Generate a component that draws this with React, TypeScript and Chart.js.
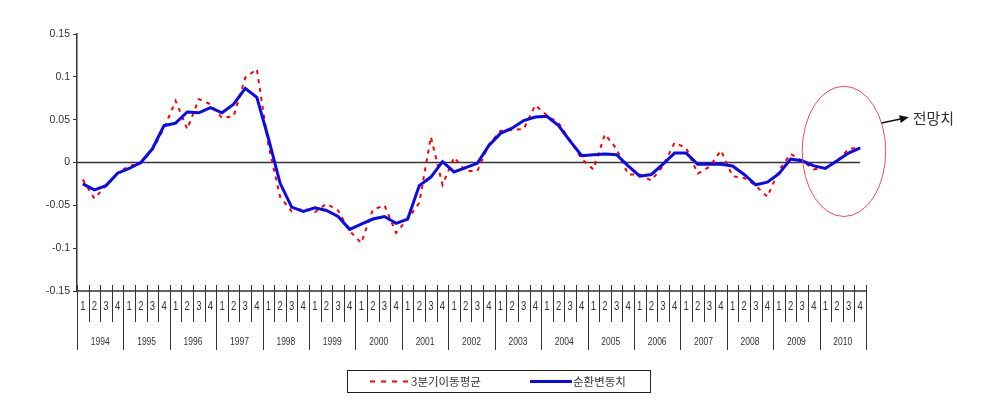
import React, { useEffect, useRef } from 'react';
import { Chart, registerables } from 'chart.js';

Chart.register(...registerables);

const YEARS = ['1994', '1995', '1996', '1997', '1998', '1999', '2000', '2001', '2002', '2003', '2004', '2005', '2006', '2007', '2008', '2009', '2010'];
const QUARTERS = ['1', '2', '3', '4'];

const MOVING_AVG_LABEL = '3분기이동평균';
const CYCLICAL_LABEL = '순환변동치';
const FORECAST_LABEL = '전망치';

// 3-quarter moving average (red dashed)
const MOVING_AVG = [
  -0.020, -0.042, -0.027, -0.012, -0.004, -0.001, 0.015, 0.040, 0.072, 0.039,
  0.074, 0.068, 0.052, 0.054, 0.099, 0.109, 0.020, -0.040, -0.057, -0.054,
  -0.058, -0.048, -0.056, -0.080, -0.094, -0.055, -0.050, -0.082, -0.066, -0.047,
  0.030, -0.026, 0.006, -0.010, -0.010, 0.021, 0.037, 0.038, 0.039, 0.067,
  0.055, 0.046, 0.026, 0.004, -0.008, 0.033, 0.016, -0.014, -0.014, -0.021,
  -0.004, 0.023, 0.017, -0.013, -0.005, 0.014, -0.016, -0.018, -0.027, -0.040,
  -0.009, 0.010, 0.002, -0.008, -0.006, 0.001, 0.016, 0.017,
];

// cyclical component (blue solid)
const CYCLICAL = [
  -0.025, -0.032, -0.027, -0.0125, -0.007, 0.000, 0.016, 0.043, 0.046, 0.059,
  0.058, 0.064, 0.058, 0.068, 0.0865, 0.076, 0.028, -0.024, -0.052, -0.057,
  -0.053, -0.056, -0.063, -0.078, -0.072, -0.066, -0.063, -0.071, -0.066, -0.027,
  -0.017, 0.001, -0.011, -0.006, -0.001, 0.020, 0.034, 0.040, 0.049, 0.053,
  0.054, 0.043, 0.025, 0.008, 0.009, 0.010, 0.009, -0.004, -0.016, -0.014,
  -0.002, 0.011, 0.011, -0.002, -0.002, -0.002, -0.004, -0.014, -0.026, -0.023,
  -0.013, 0.004, 0.002, -0.004, -0.007, 0.002, 0.011, 0.017,
];

const Y_TICKS = [-0.15, -0.1, -0.05, 0, 0.05, 0.1, 0.15];

// forecast ellipse, in data units (category index / value)
const FORECAST_CENTER_INDEX = 65.6;
const FORECAST_CENTER_VALUE = 0.013;
const FORECAST_HALF_WIDTH = 3.6;
const FORECAST_HALF_HEIGHT = 0.076;

const TEXT = '#333333';
const LINE = '#333333';
const RED = '#ff0000';
const BLUE = '#0a0aee';

function stretchedText(ctx: CanvasRenderingContext2D, text: string, x: number, y: number, size: number, sy: number) {
  ctx.save();
  ctx.translate(x, y);
  ctx.scale(1, sy);
  ctx.font = `${size}px "Liberation Sans", Arial, sans-serif`;
  ctx.textAlign = 'center';
  ctx.textBaseline = 'middle';
  ctx.fillStyle = TEXT;
  ctx.fillText(text, 0, 0);
  ctx.restore();
}

const overlay = {
  id: 'overlay',
  beforeDatasetsDraw(chart: any) {
    const { ctx, chartArea, scales } = chart;
    const x = scales.x;
    const y = scales.y;
    const y0 = y.getPixelForValue(0);
    const xEnd = x.getPixelForValue(CYCLICAL.length - 1);
    ctx.save();
    ctx.strokeStyle = LINE;
    ctx.lineWidth = 1.5;
    ctx.beginPath();
    ctx.moveTo(chartArea.left, y0);
    ctx.lineTo(xEnd, y0);
    ctx.stroke();
    ctx.restore();
  },
  afterDraw(chart: any) {
    const { ctx, chartArea, scales } = chart;
    const x = scales.x;
    const y = scales.y;
    const w = x.getPixelForValue(1) - x.getPixelForValue(0);
    const bottom = chartArea.bottom;
    const n = YEARS.length * QUARTERS.length;
    const boundary = (i: number) => x.getPixelForValue(i) - w / 2;

    ctx.save();
    // axis line
    ctx.strokeStyle = LINE;
    ctx.lineWidth = 1.5;
    ctx.beginPath();
    ctx.moveTo(chartArea.left, bottom);
    ctx.lineTo(boundary(n), bottom);
    ctx.stroke();

    // separators
    ctx.lineWidth = 1;
    for (let i = 0; i <= n; i++) {
      const bx = Math.round(boundary(i)) + 0.5;
      const isYear = i % QUARTERS.length === 0;
      ctx.beginPath();
      ctx.moveTo(bx, bottom - 6);
      ctx.lineTo(bx, bottom + (isYear ? 59 : 31));
      ctx.stroke();
    }
    // quarter labels
    for (let i = 0; i < n; i++) {
      stretchedText(ctx, QUARTERS[i % QUARTERS.length], x.getPixelForValue(i), bottom + 15, 9.5, 1.4);
    }
    // year labels
    YEARS.forEach((yr, k) => {
      const cx = (boundary(k * 4) + boundary(k * 4 + 4)) / 2;
      stretchedText(ctx, yr, cx, bottom + 51, 8.5, 1.35);
    });

    // forecast ellipse
    const ecx = x.getPixelForValue(FORECAST_CENTER_INDEX);
    const ecy = y.getPixelForValue(FORECAST_CENTER_VALUE);
    const erx = FORECAST_HALF_WIDTH * w;
    const ery = Math.abs(y.getPixelForValue(FORECAST_CENTER_VALUE + FORECAST_HALF_HEIGHT) - ecy);
    ctx.strokeStyle = '#e85050';
    ctx.lineWidth = 1;
    ctx.beginPath();
    ctx.ellipse(ecx, ecy, erx, ery, 0, 0, Math.PI * 2);
    ctx.stroke();

    // arrow
    const th = 0.45;
    const sx = ecx + erx * Math.cos(th);
    const sy = ecy - ery * Math.sin(th);
    const ex = ecx + erx + 23;
    const ey = ecy - 34;
    const ang = Math.atan2(ey - sy, ex - sx);
    ctx.strokeStyle = '#111';
    ctx.fillStyle = '#111';
    ctx.lineWidth = 1.6;
    ctx.beginPath();
    ctx.moveTo(sx, sy);
    ctx.lineTo(ex - 6 * Math.cos(ang), ey - 6 * Math.sin(ang));
    ctx.stroke();
    ctx.beginPath();
    ctx.moveTo(ex, ey);
    ctx.lineTo(ex - 9 * Math.cos(ang) + 4 * Math.sin(ang), ey - 9 * Math.sin(ang) - 4 * Math.cos(ang));
    ctx.lineTo(ex - 9 * Math.cos(ang) - 4 * Math.sin(ang), ey - 9 * Math.sin(ang) + 4 * Math.cos(ang));
    ctx.closePath();
    ctx.fill();
    ctx.font = '15px "Noto Sans CJK KR", sans-serif';
    ctx.fillStyle = TEXT;
    ctx.textAlign = 'left';
    ctx.textBaseline = 'middle';
    ctx.fillText(FORECAST_LABEL, ex + 4, ey + 1);

    // legend box
    const lx = 347;
    const ly = 370;
    const lw = 303;
    const lh = 22;
    ctx.strokeStyle = '#222';
    ctx.lineWidth = 1;
    ctx.strokeRect(lx + 0.5, ly + 0.5, lw, lh);
    const my = ly + lh / 2 + 0.5;
    ctx.strokeStyle = RED;
    ctx.lineWidth = 2;
    ctx.setLineDash([5, 6]);
    ctx.beginPath();
    ctx.moveTo(lx + 23, my);
    ctx.lineTo(lx + 64, my);
    ctx.stroke();
    ctx.setLineDash([]);
    ctx.strokeStyle = BLUE;
    ctx.lineWidth = 3;
    ctx.beginPath();
    ctx.moveTo(lx + 183, my);
    ctx.lineTo(lx + 225, my);
    ctx.stroke();
    ctx.font = '11.5px "Noto Sans CJK KR", sans-serif';
    ctx.fillStyle = TEXT;
    ctx.textAlign = 'left';
    ctx.textBaseline = 'middle';
    ctx.fillText(MOVING_AVG_LABEL, lx + 64, my);
    ctx.fillText(CYCLICAL_LABEL, lx + 226, my);
    ctx.restore();
  },
};

export default function App() {
  const ref = useRef<HTMLCanvasElement>(null);
  useEffect(() => {
    const labels = YEARS.flatMap((yr) => QUARTERS.map((q) => `${yr} ${q}`));
    const chart = new Chart(ref.current as HTMLCanvasElement, {
      type: 'line',
      data: {
        labels,
        datasets: [
          {
            label: MOVING_AVG_LABEL,
            data: MOVING_AVG,
            borderColor: RED,
            borderWidth: 2,
            borderDash: [4, 5],
            pointRadius: 0,
            tension: 0,
            fill: false,
            order: 2,
          },
          {
            label: CYCLICAL_LABEL,
            data: CYCLICAL,
            borderColor: BLUE,
            borderWidth: 3,
            pointRadius: 0,
            tension: 0,
            fill: false,
            order: 1,
          },
        ],
      },
      options: {
        animation: false,
        responsive: false,
        maintainAspectRatio: false,
        layout: { padding: { top: 34, right: 129, bottom: 121, left: 0 } },
        plugins: { legend: { display: false }, tooltip: { enabled: false } },
        scales: {
          x: { display: false, offset: true },
          y: {
            min: -0.15,
            max: 0.15,
            afterFit: (s: any) => {
              s.width = 77;
            },
            afterBuildTicks: (s: any) => {
              s.ticks = Y_TICKS.map((v) => ({ value: v }));
            },
            ticks: {
              color: TEXT,
              padding: 3,
              font: { family: '"Liberation Sans", Arial, sans-serif', size: 10.5 },
              callback: (v: any) => String(Number(Number(v).toFixed(2))),
            },
            grid: { drawOnChartArea: false, tickLength: 4, color: LINE },
            border: { color: LINE, width: 1.5 },
          },
        },
      },
      plugins: [overlay],
    });
    return () => chart.destroy();
  }, []);
  return (
    <div style={{ position: 'absolute', left: 0, top: 0, width: 995, height: 412, background: '#fff' }}>
      <canvas ref={ref} width={995} height={412} style={{ display: 'block' }} />
    </div>
  );
}
